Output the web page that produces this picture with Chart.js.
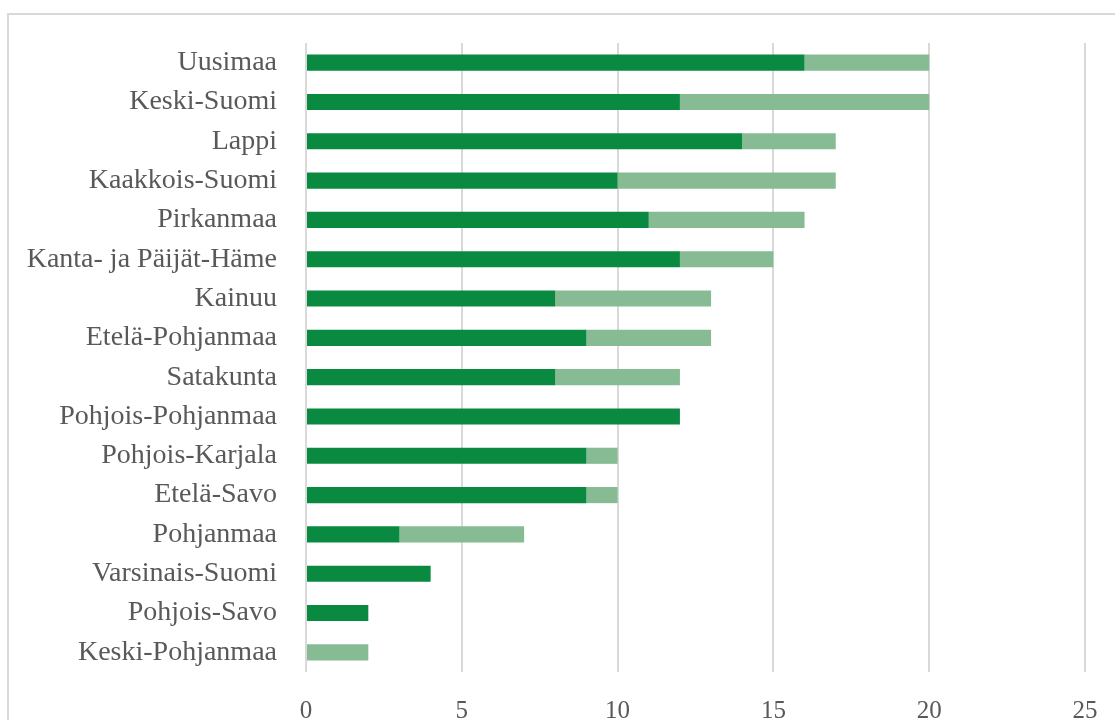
<!DOCTYPE html>
<html>
<head>
<meta charset="utf-8">
<script src="https://cdn.jsdelivr.net/npm/chart.js@4"></script>
<style>
    html, body { margin: 0; padding: 0; background: #fff; overflow: hidden; width: 1115px; height: 720px; }
    #frame { position: absolute; left: 7px; top: 13px; width: 1200px; height: 900px; border: 2px solid #d9d9d9; }
    #chart { position: absolute; left: 0; top: 0; }
</style>
</head>
<body>
<div id="frame"></div>
<canvas id="chart" width="1115" height="780"></canvas>
<script>
// regions, top to bottom as in the picture
var regions = ['Uusimaa', 'Keski-Suomi', 'Lappi', 'Kaakkois-Suomi', 'Pirkanmaa',
    'Kanta- ja Päijät-Häme', 'Kainuu', 'Etelä-Pohjanmaa', 'Satakunta', 'Pohjois-Pohjanmaa',
    'Pohjois-Karjala', 'Etelä-Savo', 'Pohjanmaa', 'Varsinais-Suomi', 'Pohjois-Savo', 'Keski-Pohjanmaa'];
var darkValues = [16, 12, 14, 10, 11, 12, 8, 9, 8, 12, 9, 9, 3, 4, 2, 0];
var lightValues = [4, 8, 3, 7, 5, 3, 5, 4, 4, 0, 1, 1, 4, 0, 0, 2];
var xTicks = [0, 5, 10, 15, 20, 25];

var labelFont = { family: "'Liberation Serif', 'DejaVu Serif', serif", size: 28 };
var tickFont = { family: "'Liberation Serif', 'DejaVu Serif', serif", size: 25 };

var ctx = document.getElementById('chart').getContext('2d');
var chart = new Chart(ctx, {
    type: 'bar',
    data: {
        labels: regions,
        datasets: [
            { label: 'a', data: darkValues, backgroundColor: '#0a8a40', borderWidth: 0 },
            { label: 'b', data: lightValues, backgroundColor: '#86bb93', borderWidth: 0 }
        ]
    },
    options: {
        indexAxis: 'y',
        responsive: false,
        animation: false,
        devicePixelRatio: 1,
        categoryPercentage: 1,
        barPercentage: 0.41,
        layout: { padding: { top: 43, right: 30, bottom: 0, left: 0 } },
        plugins: { legend: { display: false }, tooltip: { enabled: false } },
        scales: {
            x: {
                stacked: true,
                min: 0,
                max: 25,
                afterBuildTicks: function (scale) {
                    scale.ticks = xTicks.map(function (v) { return { value: v }; });
                },
                afterFit: function (scale) {
                    scale.height = 108;
                    scale.paddingLeft = 0;
                    scale.paddingRight = 0;
                },
                grid: { color: '#d9d9d9', lineWidth: 2, drawTicks: false },
                border: { display: false },
                ticks: { font: tickFont, color: '#595959', padding: 24, maxRotation: 0 }
            },
            y: {
                stacked: true,
                afterFit: function (scale) {
                    scale.width = 306;
                    scale.paddingTop = 0;
                    scale.paddingBottom = 0;
                },
                grid: { display: false, drawTicks: false },
                border: { display: false },
                ticks: { font: labelFont, color: '#595959', padding: 29, autoSkip: false }
            }
        }
    }
});
</script>
</body>
</html>
